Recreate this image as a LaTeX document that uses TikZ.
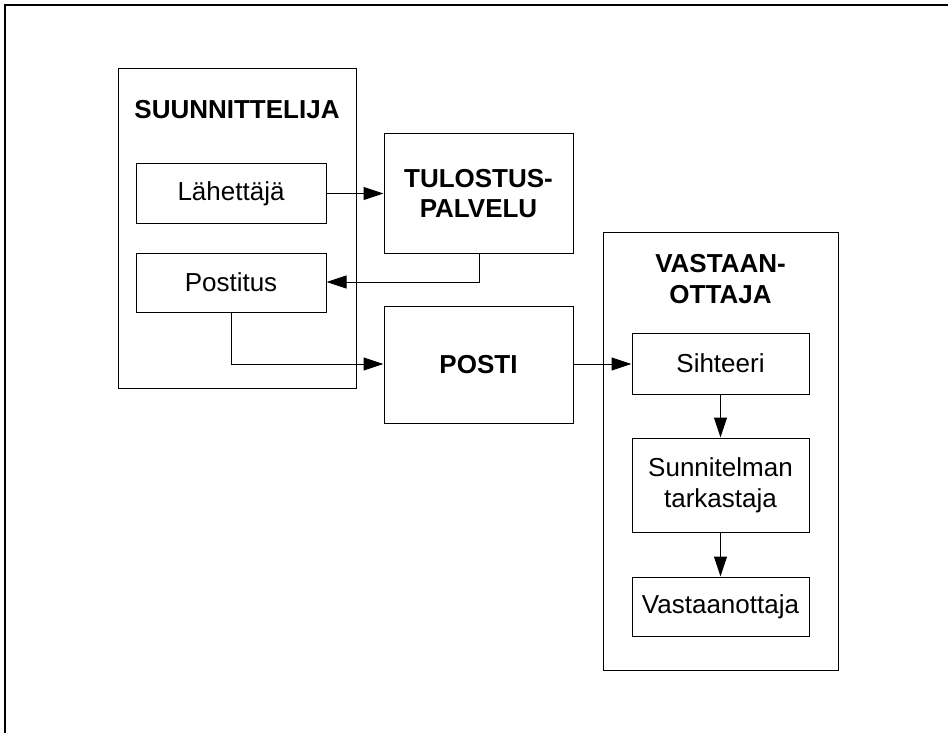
\documentclass[tikz,border=0pt]{standalone}
\usepackage{fontspec}
\setmainfont{Liberation Sans}
\usetikzlibrary{arrows.meta}
\begin{document}
\begin{tikzpicture}[x=1bp,y=-1bp,
  every node/.style={font=\fontsize{26.1}{31}\selectfont, inner sep=0pt, align=center},
  box/.style={draw=black, line width=1bp, rectangle},
  title/.style={font=\fontsize{26.1}{31}\selectfont\bfseries},
  flow/.style={draw=black, line width=1bp, -{Triangle[length=20bp,width=13bp]}}
]
\useasboundingbox (0,0) rectangle (948,733);
% page frame (only its top and left edges fall inside the page)
\draw[line width=2.2bp] (5,760) -- (5,5) -- (970,5);

% sender group
\node[box, minimum width=238bp, minimum height=319bp] (suun) at (237,228.5) {};
\node[title] (suuntitle) at (237,110) {SUUNNITTELIJA};
\node[box, minimum width=190bp, minimum height=59bp] (lah) at (231,193.5) {Lähettäjä};
\node[box, minimum width=190bp, minimum height=59bp] (post) at (231,282.5) {Postitus};

% services
\node[box, title, minimum width=189bp, minimum height=119bp] (tul) at (478.5,193.5) {TULOSTUS-\\PALVELU};
\node[box, title, minimum width=189bp, minimum height=117bp] (posti) at (478.5,364.5) {POSTI};

% receiver group
\node[box, minimum width=235bp, minimum height=437bp] (vas) at (720.5,451.5) {};
\node[title] (vastitle) at (720.5,279) {VASTAAN-\\OTTAJA};
\node[box, minimum width=177bp, minimum height=61bp] (siht) at (720.5,363.5) {Sihteeri};
\node[box, minimum width=177bp, minimum height=94bp] (sunn) at (720.5,485) {Sunnitelman\\tarkastaja};
\node[box, minimum width=177bp, minimum height=59bp] (vast) at (720.5,606.5) {Vastaanottaja};

% connectors
\coordinate (c1) at (479,282);
\coordinate (c2) at (231,364);
\draw[flow] (lah.east) -- (tul.west |- lah.east);
\draw[flow] (tul.south -| c1) -- (c1) -- (post.east |- c1);
\draw[flow] (post.south -| c2) -- (c2) -- (posti.west |- c2);
\draw[flow] (posti.east |- c2) -- (siht.west |- c2);
\draw[flow] (siht.south) -- (sunn.north);
\draw[flow] (sunn.south) -- (vast.north);
\end{tikzpicture}
\end{document}
